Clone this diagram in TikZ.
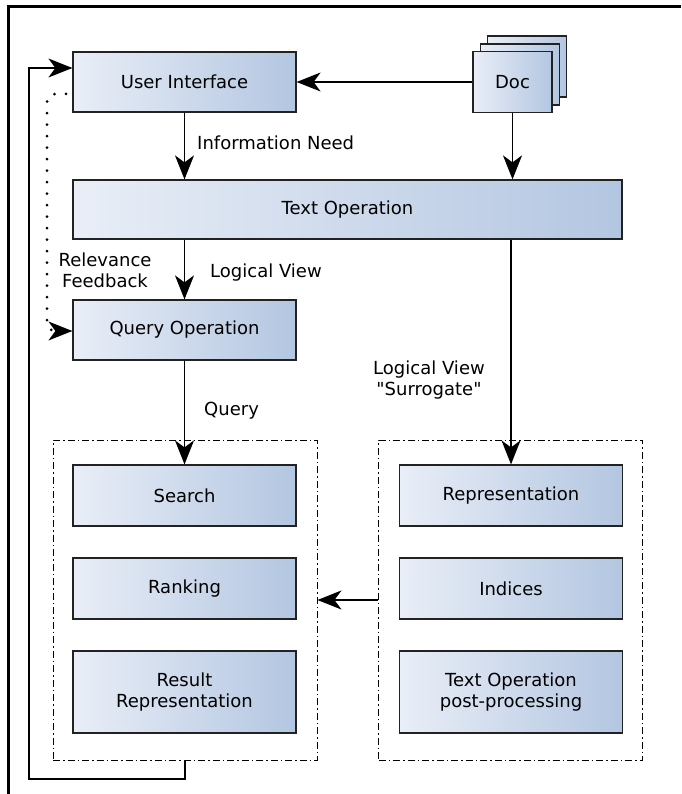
\documentclass[tikz,border=0pt]{standalone}
\usepackage{fontspec}
\setmainfont{DejaVu Sans}
\usetikzlibrary{arrows.meta,calc}

\definecolor{boxlight}{HTML}{E9EEF7}
\definecolor{boxdark}{HTML}{B3C6E1}
\definecolor{boxline}{HTML}{222222}

\tikzset{
  box/.style={draw=boxline, line width=1.2pt, rectangle,
    left color=boxlight, right color=boxdark, shading angle=90,
    minimum width=223pt, minimum height=60pt, align=center, inner sep=0pt,
    font=\fontsize{18}{21}\selectfont},
  group/.style={draw=black, line width=0.9pt, dash pattern=on 7pt off 3pt on 1.5pt off 3pt,
    rectangle, minimum width=264pt, minimum height=320pt, inner sep=0pt},
  lbl/.style={font=\fontsize{18}{21}\selectfont, inner sep=0pt},
  arr/.style={draw=black, line width=1.3pt, -{Stealth[length=24pt,width=19pt,inset=7pt]}},
  fb/.style={draw=black, line width=3pt, line cap=round, dash pattern=on 0pt off 11.5pt,
    rounded corners=8pt, -{Stealth[length=24pt,width=19pt,inset=7pt,line width=0pt]}},
}

\begin{document}
\begin{tikzpicture}[x=1pt,y=-1pt]
  % page frame
  \useasboundingbox (0,0) rectangle (681,794);
  \draw[line width=3pt] (8.5,794) -- (8.5,6.5) -- (681,6.5);

  % top row
  \node[box] (ui) at (184.5,82) {User Interface};
  \node[box, minimum width=79pt, minimum height=61pt] (doc3) at (527,66.5) {};
  \node[box, minimum width=79pt, minimum height=61pt] (doc2) at (520,74.5) {};
  \node[box, minimum width=79pt, minimum height=61pt] (doc) at (512.5,82) {Doc};

  \node[box, minimum width=549pt, minimum height=59pt] (textop) at (347.5,209.5) {Text Operation};
  \node[box] (query) at (184.5,330) {Query Operation};

  % search side
  \node[group] (leftgrp) at (185,600) {};
  \node[box, minimum height=61pt] (search) at (184.5,495.5) {Search};
  \node[box, minimum height=61pt] (ranking) at (184.5,588.5) {Ranking};
  \node[box, minimum height=82pt] (result) at (184.5,692) {Result\\Representation};

  % indexing side
  \node[group] (rightgrp) at (510.5,600) {};
  \node[box, minimum height=61pt] (repr) at (511,495.5) {Representation};
  \node[box, minimum height=61pt] (indices) at (511,588.5) {Indices};
  \node[box, minimum height=82pt] (post) at (511,692) {Text Operation\\post-processing};

  % labels
  \node[lbl, anchor=west] (l_need) at (197,143) {Information Need};
  \node[lbl, anchor=west] (l_view) at (210,273) {Logical View};
  \node[lbl, align=center] (l_fb) at (105,270) {Relevance\\Feedback};
  \node[lbl, align=center] (l_surr) at (429,380) {Logical View\\\textquotedbl Surrogate\textquotedbl};
  \node[lbl, anchor=west] (l_query) at (204,411) {Query};

  % connectors
  \draw[arr] (doc.west) -- (ui.east);
  \draw[arr] (ui.south) -- (ui.south |- textop.north);
  \draw[arr] (doc.south) -- (doc.south |- textop.north);
  \draw[arr] (query.north |- textop.south) -- (query.north);
  \draw[arr] (query.south) -- (search.north);
  \draw[arr] (repr.north |- textop.south) -- (repr.north);
  \draw[arr] (rightgrp.west) -- (leftgrp.east);

  % result loop back to the user interface
  \coordinate (loopB) at (29,779);
  \coordinate (loopT) at (29,68);
  \draw[arr] (leftgrp.south) |- (loopB) -- (loopT) -- (loopT -| ui.west);

  % relevance feedback
  \coordinate (fbS) at (66,94);
  \coordinate (fbC) at (47,94);
  \coordinate (fbE) at (47,331);
  \draw[fb] (fbS) -- (fbC) -- (fbE) -- (fbE -| query.west);
\end{tikzpicture}
\end{document}
